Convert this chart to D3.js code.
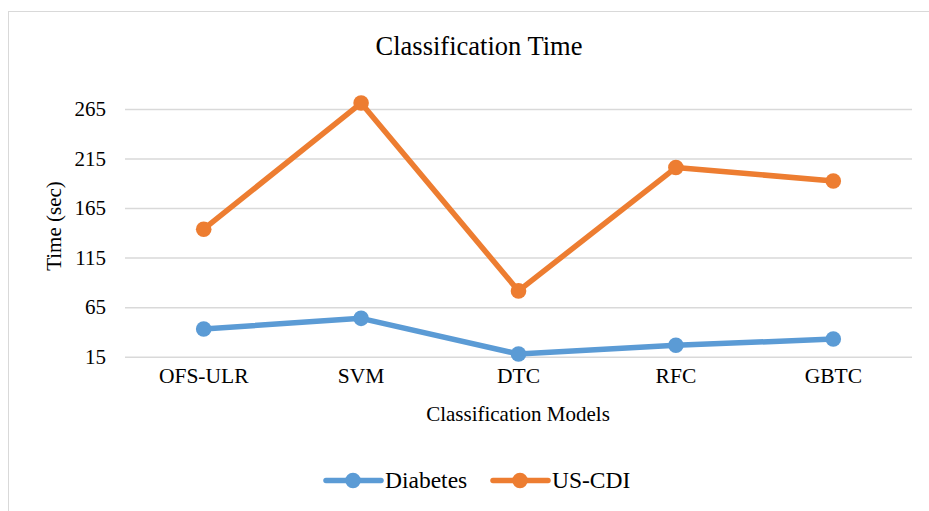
<!doctype html>
<html>
<head>
<script src="https://d3js.org/d3.v7.min.js"></script>
<style>
  body { margin: 0; background: #fff; }
  text { font-family: 'Liberation Serif', 'Times New Roman', serif; fill: #000; }
</style>
</head>
<body>
<div id="graph"></div>
<script>
const categories = ['OFS-ULR', 'SVM', 'DTC', 'RFC', 'GBTC'];
const diabetes = [43, 53.7, 17.7, 26.5, 32.8];
const usCdi = [143.7, 271, 81.4, 205.9, 192.4];
const yTicks = [15, 65, 115, 165, 215, 265];
const seriesNames = ['Diabetes', 'US-CDI'];
const colors = ['#5b9bd5', '#ed7d31'];

const W = 929, H = 511;
const svg = d3.select('#graph').append('svg')
  .attr('width', W).attr('height', H);

// chart border
svg.append('rect')
  .attr('x', 8.5).attr('y', 11.5)
  .attr('width', W + 20).attr('height', H + 20)
  .attr('fill', 'none').attr('stroke', '#d9d9d9').attr('stroke-width', 1);

const x = d3.scaleBand().domain(categories).range([125, 912]);
const y = d3.scaleLinear().domain([15, 265]).range([356.7, 109]);

// gridlines
svg.append('g')
  .attr('transform', 'translate(125,0)')
  .call(d3.axisLeft(y).tickValues(yTicks).tickSize(-(912 - 125)).tickFormat(''))
  .call(g => g.select('.domain').remove())
  .call(g => g.selectAll('line').attr('stroke', '#d9d9d9').attr('stroke-width', 1.5));

// y tick labels
svg.append('g')
  .attr('transform', 'translate(106,0)')
  .call(d3.axisLeft(y).tickValues(yTicks).tickSize(0).tickPadding(0))
  .call(g => g.select('.domain').remove())
  .call(g => g.selectAll('text')
    .style('font-family', 'Liberation Serif').style('font-size', '21px').attr('fill', '#000'));

// x labels
svg.append('g')
  .attr('transform', 'translate(0,368)')
  .call(d3.axisBottom(x).tickSize(0).tickPadding(0))
  .call(g => g.select('.domain').remove())
  .call(g => g.selectAll('text')
    .style('font-family', 'Liberation Serif').style('font-size', '21.5px').attr('fill', '#000'));

svg.append('text')
  .attr('x', 479).attr('y', 55)
  .attr('text-anchor', 'middle').style('font-size', '26.5px')
  .text('Classification Time');

svg.append('text')
  .attr('x', 518).attr('y', 421)
  .attr('text-anchor', 'middle').style('font-size', '21px')
  .text('Classification Models');

svg.append('text')
  .attr('transform', 'translate(61,226) rotate(-90)')
  .attr('text-anchor', 'middle').style('font-size', '21px')
  .text('Time (sec)');

const line = d3.line()
  .x((d, i) => x(categories[i]) + x.bandwidth() / 2)
  .y(d => y(d));

[diabetes, usCdi].forEach((vals, s) => {
  svg.append('path')
    .attr('d', line(vals))
    .attr('fill', 'none')
    .attr('stroke', colors[s])
    .attr('stroke-width', 5.5)
    .attr('stroke-linejoin', 'round');
  svg.selectAll('.pt' + s)
    .data(vals)
    .enter()
    .append('circle')
    .attr('cx', (d, i) => x(categories[i]) + x.bandwidth() / 2)
    .attr('cy', d => y(d))
    .attr('r', 7.8)
    .attr('fill', colors[s]);
});

// legend
const legendX = [326, 493];
seriesNames.forEach((name, s) => {
  const lg = svg.append('g').attr('transform', `translate(${legendX[s]},480.5)`);
  lg.append('line')
    .attr('x1', 0).attr('x2', 55)
    .attr('stroke', colors[s]).attr('stroke-width', 5.5).attr('stroke-linecap', 'round');
  lg.append('circle').attr('cx', 27).attr('r', 7.8).attr('fill', colors[s]);
  lg.append('text')
    .attr('x', 59).attr('y', 7.5)
    .style('font-size', '23.5px')
    .text(name);
});
</script>
</body>
</html>
